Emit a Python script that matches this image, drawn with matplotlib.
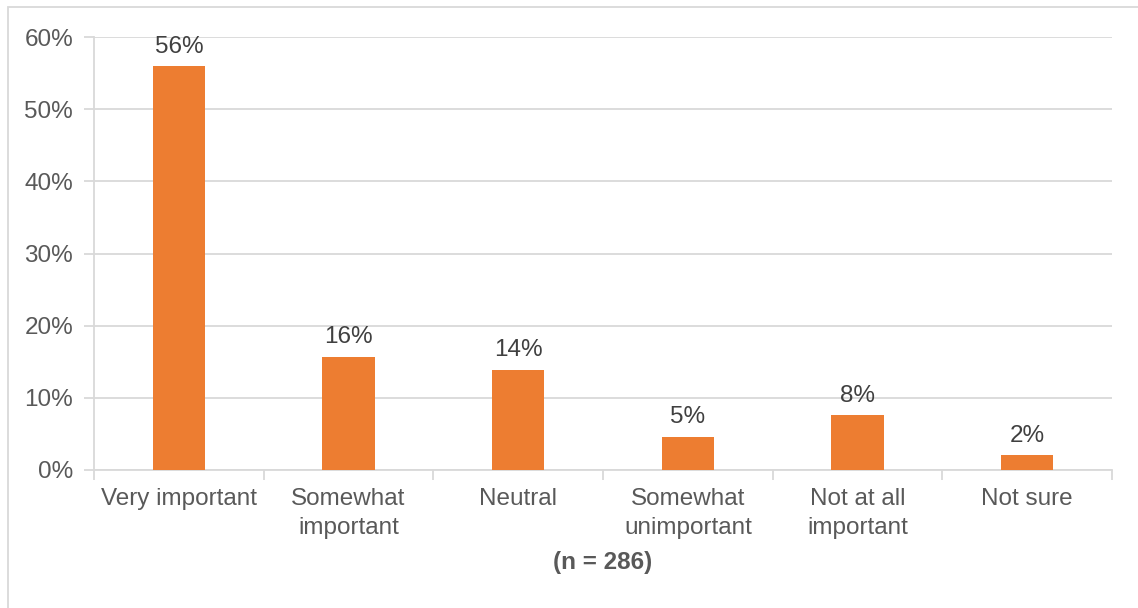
import matplotlib.pyplot as plt
from matplotlib.patches import Rectangle

# survey answers (share of respondents, %)
categories = ['Very important', 'Somewhat\nimportant', 'Neutral',
              'Somewhat\nunimportant', 'Not at all\nimportant', 'Not sure']
shares = [56.0, 15.7, 13.9, 4.6, 7.6, 2.1]
y_ticks = [0, 10, 20, 30, 40, 50, 60]

bar_color = '#ED7D31'
grid_color = '#D9D9D9'
text_color = '#595959'
fs = 17.5

plt.rcParams['font.family'] = ['Liberation Sans', 'DejaVu Sans']

fig = plt.figure(figsize=(11.38, 6.08), dpi=100)
ax = fig.add_axes([94 / 1138, 1 - 470 / 608, (1112 - 94) / 1138, (470 - 37) / 608])

x = list(range(len(categories)))
bars = ax.bar(x, shares, width=0.31, color=bar_color, zorder=3)

for rect, val in zip(bars, shares):
    ax.annotate(f'{val:.0f}%', (rect.get_x() + rect.get_width() / 2, val),
                xytext=(0, 6), textcoords='offset points',
                ha='center', va='bottom', fontsize=fs, color='#404040')

ax.set_xlim(-0.5, len(categories) - 0.5)
ax.set_ylim(0, 60)
ax.set_yticks(y_ticks)
ax.set_yticklabels([f'{t}%' for t in y_ticks])
ax.yaxis.grid(True, color=grid_color, linewidth=1.3, zorder=0)

# category labels in the middle, ticks on the boundaries
ax.set_xticks(x)
ax.set_xticklabels(categories, linespacing=1.4)
ax.set_xticks([i - 0.5 for i in range(len(categories) + 1)], minor=True)
ax.tick_params(axis='x', which='major', length=0, pad=13, labelsize=fs, labelcolor=text_color)
ax.tick_params(axis='x', which='minor', length=7, width=1.3, color=grid_color)
ax.tick_params(axis='y', length=7, width=1.3, color=grid_color, pad=8,
               labelsize=fs, labelcolor=text_color)

for side in ['top', 'right']:
    ax.spines[side].set_visible(False)
for side in ['left', 'bottom']:
    ax.spines[side].set_color(grid_color)
    ax.spines[side].set_linewidth(1.3)

ax.set_xlabel('(n = 286)', fontsize=fs, fontweight='bold', color=text_color, labelpad=9)

# chart frame
fig.patches.append(Rectangle((8 / 1138, -0.1), 1.2, 1.1 - 7 / 608,
                             transform=fig.transFigure, fill=False,
                             edgecolor=grid_color, linewidth=1.3))

fig.savefig('out.png', dpi=100)
